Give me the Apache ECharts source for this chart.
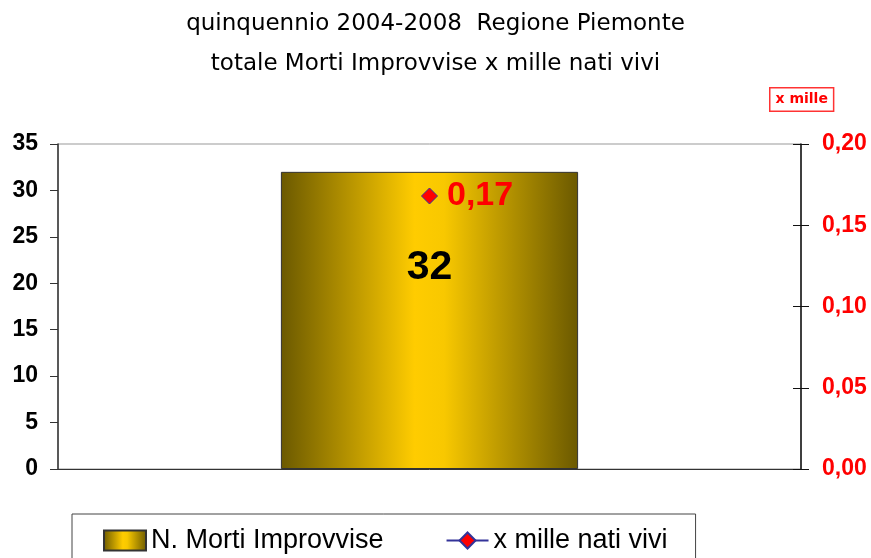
<!DOCTYPE html>
<html>
<head>
<meta charset="utf-8">
<script src="https://cdn.jsdelivr.net/npm/echarts@6/dist/echarts.min.js"></script>
<style>
  html, body { margin: 0; padding: 0; background: #fff; }
  #chart { width: 871px; height: 558px; }
</style>
</head>
<body>
<div id="chart"></div>
<script>
const categories = ['2004-2008']
const morti = [32]
const perMille = [0.168]
const leftTicks = [0, 5, 10, 15, 20, 25, 30, 35]
const rightTicks = ['0,00', '0,05', '0,10', '0,15', '0,20']

const font = '"Liberation Sans", Arial, sans-serif'
const wideFont = '"DejaVu Sans", "Liberation Sans", sans-serif'

// gradiente orizzontale della barra (scuro ai bordi, giallo al centro)
const barGradient = new echarts.graphic.LinearGradient(0, 0, 1, 0, [
  { offset: 0, color: '#6b5900' },
  { offset: 0.45, color: '#ffcc00' },
  { offset: 0.55, color: '#f8c800' },
  { offset: 1, color: '#6b5900' }
])

const chart = echarts.init(document.getElementById('chart'))
chart.setOption({
  animation: false,
  title: {
    text: 'quinquennio 2004-2008  Regione Piemonte\ntotale Morti Improvvise x mille nati vivi',
    left: 'center',
    top: -1,
    textStyle: {
      fontFamily: wideFont,
      fontSize: 23,
      fontWeight: 'normal',
      color: '#000',
      lineHeight: 40
    }
  },
  legend: {
    left: 72,
    top: 514,
    padding: [13, 28, 30, 31],
    itemGap: 62,
    itemWidth: 42,
    itemHeight: 20,
    borderColor: '#444',
    borderWidth: 1,
    textStyle: { fontFamily: font, fontSize: 27, color: '#000' },
    data: [
      { name: 'N. Morti Improvvise', icon: 'rect' },
      { name: 'x mille nati vivi' }
    ]
  },
  graphic: [
    {
      type: 'text',
      left: 769,
      top: 87,
      style: {
        text: 'x mille',
        fontFamily: wideFont,
        fontSize: 14,
        fontWeight: 'bold',
        fill: '#ff0000',
        backgroundColor: '#fff',
        borderColor: '#ff3333',
        borderWidth: 1.5,
        padding: [4, 5, 4, 5]
      }
    }
  ],
  grid: {
    left: 58,
    right: 70,
    top: 144,
    bottom: 89,
    show: true,
    borderColor: '#999',
    borderWidth: 1
  },
  xAxis: {
    type: 'category',
    data: categories,
    axisLine: { show: true, lineStyle: { color: '#333' } },
    axisTick: { show: false },
    axisLabel: { show: false }
  },
  yAxis: [
    {
      type: 'value',
      min: 0,
      max: 35,
      interval: 5,
      axisLine: { show: true, lineStyle: { color: '#333', width: 1.5 } },
      axisTick: { show: true, length: 8, lineStyle: { color: '#333' } },
      splitLine: { show: false },
      axisLabel: {
        fontFamily: font,
        fontSize: 23,
        fontWeight: 'bold',
        color: '#000',
        margin: 20,
        formatter: (v) => (leftTicks.includes(v) ? String(v) : '')
      }
    },
    {
      type: 'value',
      min: 0,
      max: 0.2,
      interval: 0.05,
      position: 'right',
      axisLine: { show: true, lineStyle: { color: '#111', width: 1.5 } },
      axisTick: { show: true, length: 8, lineStyle: { color: '#111' } },
      splitLine: { show: false },
      axisLabel: {
        fontFamily: font,
        fontSize: 23,
        fontWeight: 'bold',
        color: '#ff0000',
        margin: 21,
        formatter: (v) => rightTicks[Math.round(v / 0.05)]
      }
    },
    {
      // solo per i tick interni dell'asse destro (tick a croce)
      type: 'value',
      min: 0,
      max: 0.2,
      interval: 0.05,
      position: 'right',
      axisLine: { show: false },
      axisTick: { show: true, inside: true, length: 8, lineStyle: { color: '#111' } },
      splitLine: { show: false },
      axisLabel: { show: false }
    }
  ],
  series: [
    {
      name: 'N. Morti Improvvise',
      type: 'bar',
      data: morti,
      barWidth: '40%',
      itemStyle: { color: barGradient, borderColor: '#333', borderWidth: 1 },
      label: {
        show: true,
        position: 'insideTop',
        distance: 75,
        fontFamily: font,
        fontSize: 41,
        fontWeight: 'bold',
        color: '#000'
      }
    },
    {
      name: 'x mille nati vivi',
      type: 'line',
      yAxisIndex: 1,
      data: perMille,
      symbol: 'diamond',
      symbolSize: 16,
      lineStyle: { color: '#333399', width: 1.5 },
      itemStyle: { color: '#ff0000', borderColor: '#333399', borderWidth: 1 },
      label: {
        show: true,
        position: 'right',
        distance: 9,
        fontFamily: font,
        fontSize: 34,
        fontWeight: 'bold',
        color: '#ff0000',
        formatter: (p) => p.value.toFixed(2).replace('.', ',')
      }
    }
  ]
})
</script>
</body>
</html>
